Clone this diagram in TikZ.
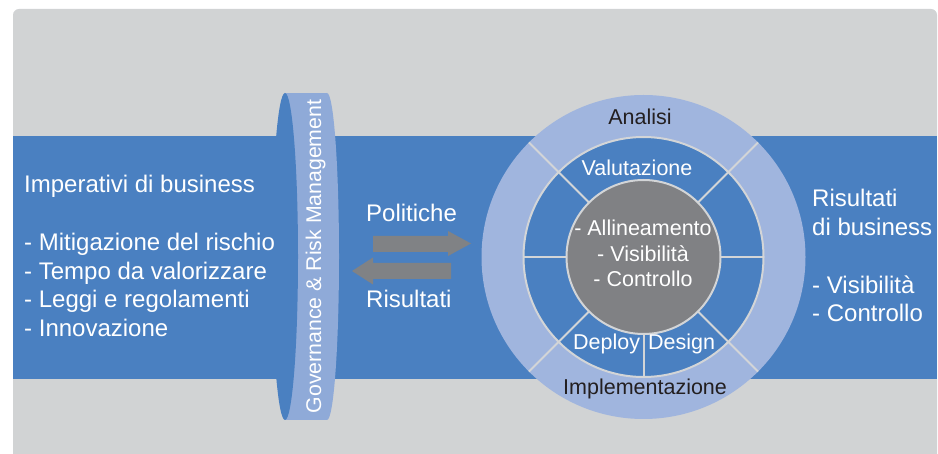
\documentclass[tikz,border=0pt]{standalone}
\usepackage{fontspec}
\setmainfont{Liberation Sans}
\usetikzlibrary{calc}
\definecolor{bggray}{HTML}{D1D3D4}
\definecolor{bandblue}{HTML}{4A80C1}
\definecolor{govlight}{HTML}{8FAAD8}
\definecolor{ringlight}{HTML}{A0B5DE}
\definecolor{arrowgray}{HTML}{808285}
\definecolor{coregray}{HTML}{808184}
\definecolor{divline}{HTML}{D3D5D7}
\definecolor{darktext}{HTML}{231F20}
\tikzset{
  wtxt/.style={text=white, inner sep=0pt, font=\fontsize{24}{28.7}\selectfont},
  ctxt/.style={inner sep=0pt, font=\fontsize{21.5}{25.5}\selectfont},
  divider/.style={draw=divline, line width=2pt},
  arrowshape/.style={fill=arrowgray},
}
\begin{document}
\begin{tikzpicture}[x=1pt,y=-1pt]
\useasboundingbox (0,0) rectangle (938,454);
% background panel
\fill[bggray, rounded corners=6pt] (13,9) rectangle (937,480);
% band
\fill[bandblue] (13,136) rectangle (937,379);
% governance ring
\fill[govlight] (285,93) rectangle (327,420);
\fill[govlight] (327,256.5) ellipse [x radius=12, y radius=163.5];
\fill[bandblue] (285,256.5) ellipse [x radius=13, y radius=163.5];
\node[ctxt, text=white, rotate=90, anchor=base, font=\fontsize{21.3}{25}\selectfont] (gov) at (321,256.5) {Governance \& Risk Management};
% left text
\node[wtxt, anchor=base west] (imp) at (24,193) {\begin{tabular}[t]{@{}l@{}}Imperativi di business\\ \\ - Mitigazione del rischio\\ - Tempo da valorizzare\\ - Leggi e regolamenti\\ - Innovazione\end{tabular}};
% arrows
\node[wtxt, anchor=base west] (pol) at (366,222) {Politiche};
\node[wtxt, anchor=base west] (ris) at (366,308) {Risultati};
\fill[arrowshape] (373,236) -- (448,236) -- (448,231) -- (471,243.5) -- (448,256) -- (448,252) -- (373,252) -- cycle;
\fill[arrowshape] (451,263) -- (373,263) -- (373,257.5) -- (352,271) -- (373,284.5) -- (373,279) -- (451,279) -- cycle;
% circle
\coordinate (C) at (643.5,257);
\fill[ringlight] (C) circle [radius=162];
\filldraw[fill=bandblue, draw=divline, line width=2pt] (C) circle [radius=120];
\foreach \a in {45,135,225,315} {
  \draw[divider] ($(C)+(\a:77)$) -- ($(C)+(\a:162)$);
}
\draw[divider] ($(C)+(0:77)$) -- ($(C)+(0:120)$);
\draw[divider] ($(C)+(180:77)$) -- ($(C)+(180:120)$);
\draw[divider] ($(C)+(90:77)$) -- ($(C)+(90:120)$);
\filldraw[fill=coregray, draw=divline, line width=2pt] (C) circle [radius=77];
\node[ctxt, text=white, anchor=base] (core) at (643,236) {\begin{tabular}[t]{@{}c@{}}- Allineamento\\ - Visibilità\\ - Controllo\end{tabular}};
\node[ctxt, text=darktext, anchor=base] (ana) at (640,125) {Analisi};
\node[ctxt, text=white, anchor=base] (val) at (637,176) {Valutazione};
\node[ctxt, text=white, anchor=base west] (dep) at (573,350) {Deploy};
\node[ctxt, text=white, anchor=base west] (des) at (648,350) {Design};
\node[ctxt, text=darktext, anchor=base west] (impl) at (563,395) {Implementazione};
% right text
\node[wtxt, anchor=base west] (res) at (812,207) {\begin{tabular}[t]{@{}l@{}}Risultati\\ di business\\ \\ - Visibilità\\ - Controllo\end{tabular}};
\end{tikzpicture}
\end{document}
